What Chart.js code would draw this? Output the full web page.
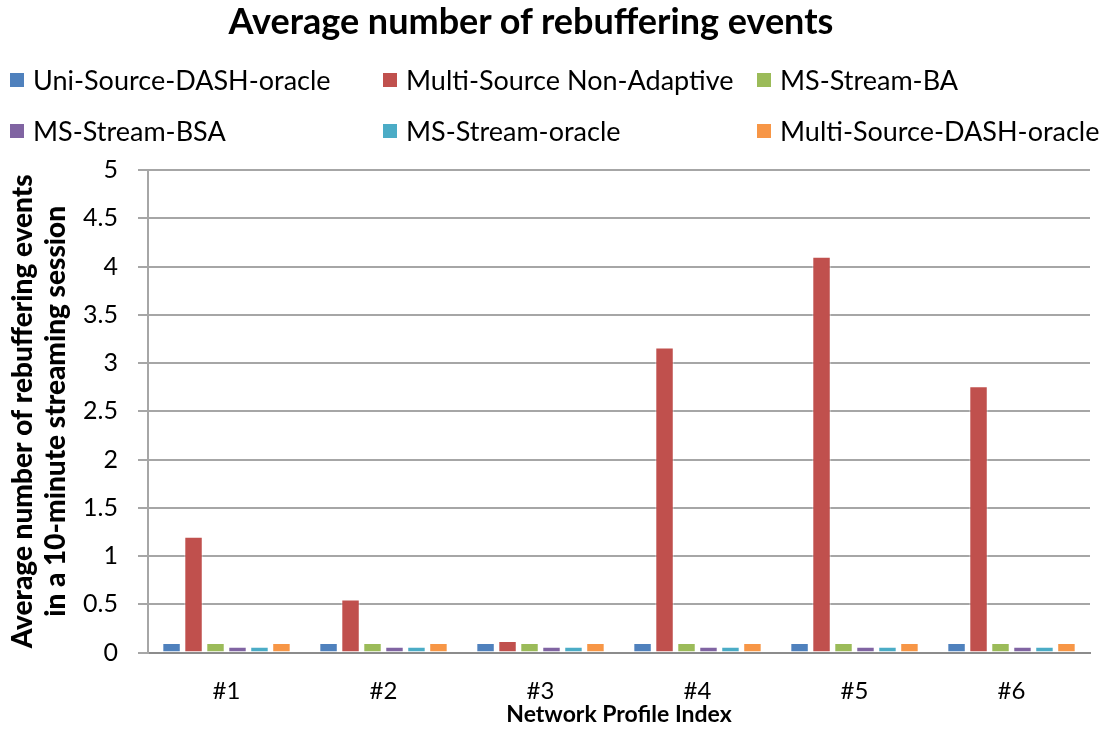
<!DOCTYPE html>
<html>
<head>
<meta charset="utf-8">
<script src="https://cdn.jsdelivr.net/npm/chart.js@4/dist/chart.umd.min.js"></script>
<style>
  html, body { margin: 0; padding: 0; background: #fff; }
  #wrap { position: relative; width: 1101px; height: 731px; }
  #title { position: absolute; left: 0; top: -2px; width: 1062px; text-align: center; font-family: Lato, sans-serif; font-weight: bold; font-size: 36px; color: #000; }
  #legend { position: absolute; left: 0; top: 63px; width: 1101px; font-family: Lato, sans-serif; font-size: 27px; color: #000; }
  .item { position: absolute; display: flex; align-items: center; white-space: nowrap; }
  .sw { width: 14px; height: 14px; margin-right: 9px; }
</style>
</head>
<body>
<div id="wrap">
  <canvas id="chart" width="1101" height="731"></canvas>
  <div id="title">Average number of rebuffering events</div>
  <div id="legend"></div>
</div>
<script>
const categories = ['#1', '#2', '#3', '#4', '#5', '#6'];
const seriesNames = ['Uni-Source-DASH-oracle', 'Multi-Source Non-Adaptive', 'MS-Stream-BA',
                     'MS-Stream-BSA', 'MS-Stream-oracle', 'Multi-Source-DASH-oracle'];
const seriesColors = ['#4f81bd', '#c0504d', '#9bbb59', '#8064a2', '#4bacc6', '#f79646'];

const uniSourceDash = [0.1, 0.1, 0.1, 0.1, 0.1, 0.1];
const multiSourceNonAdaptive = [1.2, 0.55, 0.12, 3.16, 4.1, 2.76];
const msStreamBA = [0.1, 0.1, 0.1, 0.1, 0.1, 0.1];
const msStreamBSA = [0.06, 0.06, 0.06, 0.06, 0.06, 0.06];
const msStreamOracle = [0.06, 0.06, 0.06, 0.06, 0.06, 0.06];
const multiSourceDash = [0.1, 0.1, 0.1, 0.1, 0.1, 0.1];

const yTicks = [0, 0.5, 1, 1.5, 2, 2.5, 3, 3.5, 4, 4.5, 5];

const allSeries = [uniSourceDash, multiSourceNonAdaptive, msStreamBA, msStreamBSA, msStreamOracle, multiSourceDash];

// legend laid out as 3 columns x 2 rows like the original
const legendCols = [10, 383, 757];
const legendRows = [0, 51];
const legendEl = document.getElementById('legend');
seriesNames.forEach((name, i) => {
    const div = document.createElement('div');
    div.className = 'item';
    div.style.left = legendCols[i % 3] + 'px';
    div.style.top = legendRows[Math.floor(i / 3)] + 'px';
    div.innerHTML = `<span class="sw" style="background:${seriesColors[i]}"></span>${name}`;
    legendEl.appendChild(div);
});

const ctx = document.getElementById('chart').getContext('2d');
new Chart(ctx, {
    type: 'bar',
    data: {
        labels: categories,
        datasets: allSeries.map((vals, i) => ({
            label: seriesNames[i],
            data: vals,
            backgroundColor: seriesColors[i],
            borderColor: 'rgba(255,255,255,0.5)',
            borderWidth: 1,
            categoryPercentage: 0.84,
            barPercentage: 0.84
        }))
    },
    options: {
        responsive: false,
        animation: false,
        layout: { padding: { left: 6, right: 11, top: 170, bottom: 3 } },
        plugins: {
            legend: { display: false },
            tooltip: { enabled: false }
        },
        scales: {
            x: {
                grid: { display: false },
                border: { color: '#8c8c8c', width: 2 },
                ticks: { color: '#000', font: { family: 'Lato', size: 24 }, padding: 16 },
                title: {
                    display: true,
                    text: 'Network Profile Index',
                    color: '#000',
                    font: { family: 'Lato', size: 23, weight: 'bold' },
                    padding: { top: -21, bottom: 0 }
                }
            },
            y: {
                min: 0,
                max: 5,
                afterBuildTicks: axis => { axis.ticks = yTicks.map(v => ({ value: v })); },
                afterFit: axis => { axis.width = 142; },
                grid: { color: '#a6a6a6', lineWidth: 2, tickLength: 10 },
                border: { color: '#a6a6a6', width: 2 },
                ticks: {
                    color: '#000',
                    font: { family: 'Lato', size: 25 },
                    padding: 20,
                    callback: v => String(v)
                },
                title: {
                    display: true,
                    text: ['Average number of rebuffering events', 'in a 10-minute streaming session'],
                    color: '#000',
                    font: { family: 'Lato', size: 28, weight: '900', lineHeight: 1.18 },
                    padding: { top: 0, bottom: 0 }
                }
            }
        }
    }
});
</script>
</body>
</html>
